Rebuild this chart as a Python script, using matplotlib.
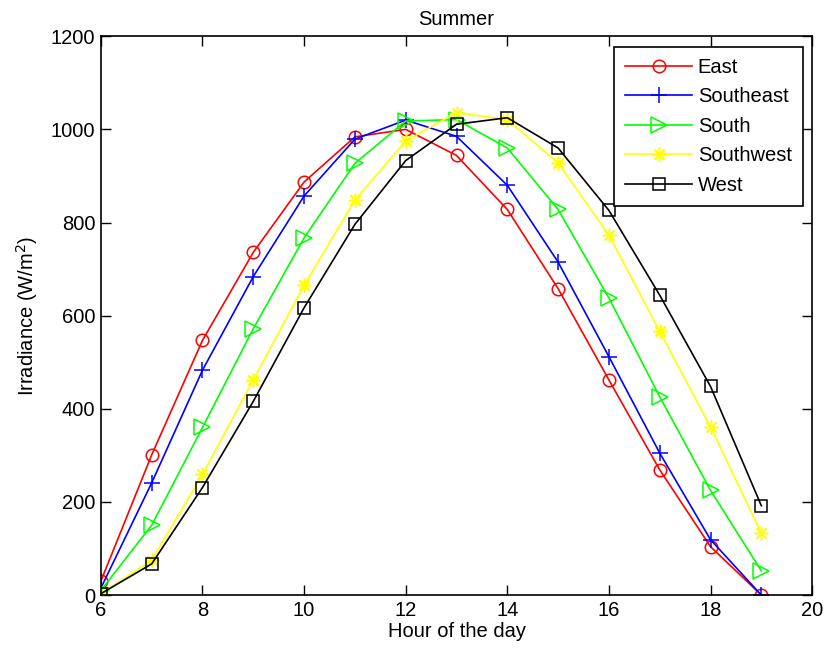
import matplotlib
matplotlib.use("Agg")
from matplotlib import pyplot as plt

plt.rcParams['font.family'] = ['Liberation Sans', 'DejaVu Sans']

hours = list(range(6, 20))
east = [30, 301, 547, 736, 887, 984, 1000, 944, 828, 658, 462, 269, 104, 0]
southeast = [15, 241, 483, 684, 857, 979, 1020, 985, 880, 715, 512, 305, 119, 0]
south = [10, 150, 360, 572, 767, 927, 1018, 1021, 960, 828, 638, 426, 225, 52]
southwest = [3, 75, 259, 462, 665, 848, 975, 1036, 1021, 928, 773, 566, 361, 133]
west = [3, 67, 231, 416, 617, 796, 933, 1011, 1025, 960, 826, 644, 448, 192]

# MATLAB-style asterisk: eight spokes
asterisk = (8, 2, 0)

series = [
    ("East", east, "red", "o", 9),
    ("Southeast", southeast, "blue", "+", 12),
    ("South", south, "#00ff00", ">", 11),
    ("Southwest", southwest, "#ffff00", asterisk, 10),
    ("West", west, "black", "s", 9),
]

fig = plt.figure(figsize=(8.27, 6.59), dpi=100)
ax = fig.add_axes([0.122, 0.097, 0.860, 0.848])

for name, vals, color, marker, ms in series:
    ax.plot(hours, vals, color=color, marker=marker, markersize=ms,
            markerfacecolor="none", markeredgecolor=color, linewidth=1.2,
            markeredgewidth=1.1, label=name)

ax.set_xlim(6, 20)
ax.set_ylim(0, 1200)
ax.set_xticks(range(6, 21, 2))
ax.set_yticks(range(0, 1201, 200))
ax.tick_params(direction="in", top=True, right=True, labelsize=14.5, length=7, width=1, pad=4)
for sp in ax.spines.values():
    sp.set_linewidth(1.2)

ax.set_xlabel("Hour of the day", fontsize=14.5, labelpad=2)
ax.set_ylabel("Irradiance (W/m$^2$)", fontsize=14.5, labelpad=8)
ax.set_title("Summer", fontsize=14.5, pad=8)

leg = ax.legend(loc="upper right", bbox_to_anchor=(0.987, 0.981), fontsize=14.5,
                frameon=True, fancybox=False, edgecolor="black", framealpha=1,
                handlelength=3.3, borderpad=0.55, labelspacing=0.52,
                handletextpad=0.3, borderaxespad=0)
leg.get_frame().set_linewidth(1.2)

fig.savefig("out.png", dpi=100)
